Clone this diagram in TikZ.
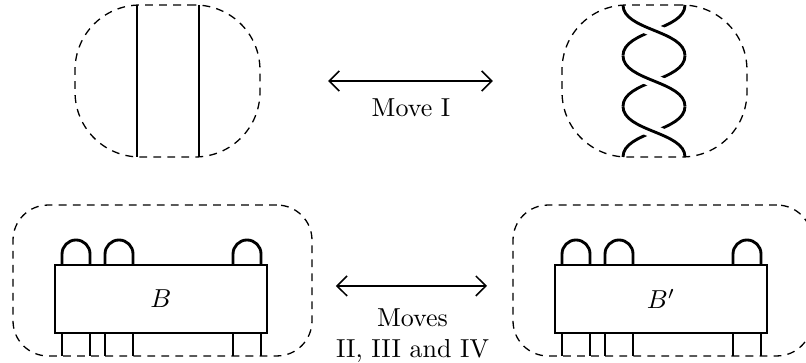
\documentclass[tikz,border=0pt]{standalone}
\usepackage{amsmath,amssymb}
\usepackage{tikz}
\usetikzlibrary{arrows.meta}

\def\pxu{0.385pt}
\tikzset{
  region/.style={draw,dash pattern=on 3pt off 2.4pt,line width=0.5pt,inner sep=0pt,outer sep=0pt},
  strand/.style={line width=1.1pt},
  halo/.style={white,line width=5pt},
  boxnode/.style={draw,line width=0.5pt,inner sep=0pt,outer sep=0pt,minimum width=81.6pt,minimum height=26.2pt},
  move/.style={line width=0.6pt,{Straight Barb[length=3.9pt,width=7.7pt]}-{Straight Barb[length=3.9pt,width=7.7pt]}}
}

\begin{document}
\begin{tikzpicture}[x=\pxu,y=-\pxu]
\useasboundingbox (0,0) rectangle (806,363);

\foreach \x in {137,199} {
  \draw[strand] (\x,5) -- (\x,157);
}
\foreach \y in {5,55.67,106.33} {
  \draw[strand] (685,\y) .. controls (685,\y+25.33) and (623,\y+25.33) .. (623,\y+50.67);
}
\foreach \y in {5,55.67,106.33} {
  \draw[halo] (623,\y) .. controls (623,\y+25.33) and (685,\y+25.33) .. (685,\y+50.67);
  \draw[strand] (623,\y) .. controls (623,\y+25.33) and (685,\y+25.33) .. (685,\y+50.67);
}

\path (167.5,81) node[region,minimum width=71.2pt,minimum height=58.5pt,rounded corners=25pt] (L1) {};
\path (654.5,81) node[region,minimum width=71.2pt,minimum height=58.5pt,rounded corners=25pt] (R1) {};
\path (162.5,280.5) node[region,minimum width=115.1pt,minimum height=58.1pt,rounded corners=13.5pt] (L2) {};
\path (662.5,280.5) node[region,minimum width=115.1pt,minimum height=58.1pt,rounded corners=13.5pt] (R2) {};

\path (161,299) node[boxnode] (B) {$B$};
\path (661,299) node[boxnode] (Bp) {$B'$};

\foreach \b in {B,Bp} {
  \foreach \x in {7,50,178} {
    \draw[strand,shift={(\b.north west)}] (\x,0) -- ++(0,-11) arc (180:360:14) -- ++(0,11);
    \draw[strand,shift={(\b.south west)}] (\x,0) -- ++(0,23) (\x+28,0) -- ++(0,23);
  }
}

\path[move] (L1) edge[shorten <=26.2pt,shorten >=26.6pt] node[below=3.3pt] {Move I} (R1);
\path[move] ([yshift=-2.1pt]L2.east) edge[shorten <=9.2pt,shorten >=10pt] node[below=5pt,align=center] {Moves\\II, III and IV} ([yshift=-2.1pt]R2.west);

\end{tikzpicture}
\end{document}
